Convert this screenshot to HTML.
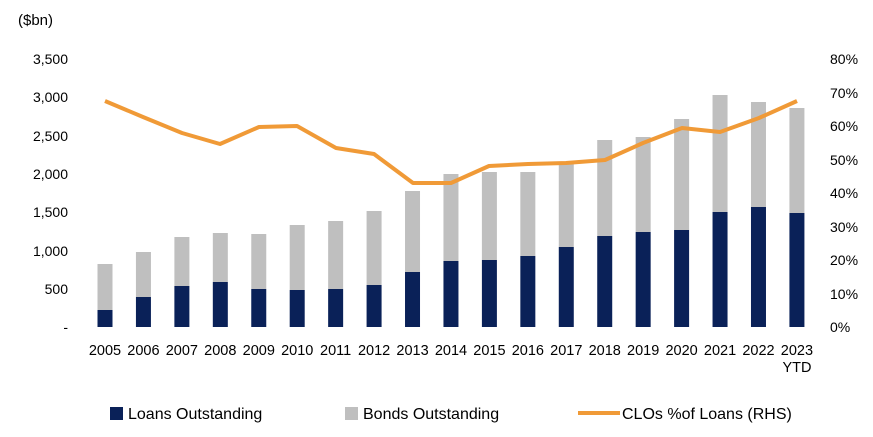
<!DOCTYPE html>
<html><head><meta charset="utf-8"><style>
html,body{margin:0;padding:0;background:#fff;}
svg{display:block;font-family:"Liberation Sans",Arial,sans-serif;font-size:14px;fill:#000;}
</style></head><body>
<svg width="873" height="437" viewBox="0 0 873 437" xmlns="http://www.w3.org/2000/svg">
<text x="18" y="25" font-size="15">($bn)</text>
<g text-anchor="end">
<text x="68" y="64">3,500</text>
<text x="68" y="102">3,000</text>
<text x="68" y="141">2,500</text>
<text x="68" y="179">2,000</text>
<text x="68" y="217">1,500</text>
<text x="68" y="256">1,000</text>
<text x="68" y="294">500</text>
<text x="68" y="332">-</text>
</g>
<g text-anchor="start">
<text x="830" y="64">80%</text>
<text x="830" y="98">70%</text>
<text x="830" y="131">60%</text>
<text x="830" y="165">50%</text>
<text x="830" y="198">40%</text>
<text x="830" y="232">30%</text>
<text x="830" y="265">20%</text>
<text x="830" y="299">10%</text>
<text x="830" y="332">0%</text>
</g>
<g id="bars"></g>
<polyline fill="none" stroke="#f09a37" stroke-width="4" stroke-linejoin="round"
points="105,101 143,117 182,133 220,144 259,127 297,126 336,148 374,154 413,183 451,183 489,166 528,164 566,163 605,160 643,143 682,128 720,132 759,118 797,101"/>
<g id="years" text-anchor="middle" font-size="14.5"></g>
<text x="797" y="372" text-anchor="middle" font-size="14.5">YTD</text>
<g font-size="16">
<rect x="110" y="407" width="13" height="13" fill="#0a2158"/>
<text x="128" y="419">Loans Outstanding</text>
<rect x="345" y="407" width="13" height="13" fill="#bfbfbf"/>
<text x="363" y="419">Bonds Outstanding</text>
<line x1="578" y1="413" x2="620" y2="413" stroke="#f09a37" stroke-width="4"/>
<text x="622" y="419">CLOs %of Loans (RHS)</text>
</g>
<script>
var L=[310,297,286,282,289,290,289,285,272,261,260,256,247,236,232,230,212,207,213];
var T=[264,252,237,233,234,225,221,211,191,174,172,172,164,140,137,119,95,102,108];
var b=document.getElementById('bars'),y=document.getElementById('years'),ns='http://www.w3.org/2000/svg';
for(var i=0;i<19;i++){var cx=105+i*38.44;
var r=document.createElementNS(ns,'rect');r.setAttribute('x',cx-7.5);r.setAttribute('y',T[i]);r.setAttribute('width',15);r.setAttribute('height',L[i]-T[i]);r.setAttribute('fill','#bfbfbf');b.appendChild(r);
r=document.createElementNS(ns,'rect');r.setAttribute('x',cx-7.5);r.setAttribute('y',L[i]);r.setAttribute('width',15);r.setAttribute('height',327-L[i]);r.setAttribute('fill','#0a2158');b.appendChild(r);
var t=document.createElementNS(ns,'text');t.setAttribute('x',cx);t.setAttribute('y',355);t.textContent=2005+i;y.appendChild(t);}
</script>
</svg>
</body></html>
